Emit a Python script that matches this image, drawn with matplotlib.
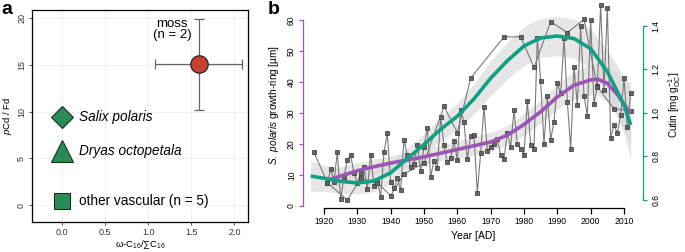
import matplotlib
matplotlib.use("Agg")
import matplotlib.pyplot as plt
import numpy as np

plt.rcParams['font.family'] = ['Liberation Sans', 'DejaVu Sans']
plt.rcParams['mathtext.fontset'] = 'custom'
plt.rcParams['mathtext.rm'] = 'Liberation Sans'
plt.rcParams['mathtext.it'] = 'Liberation Sans:italic'

# ---- panel a data ----
veg_labels = ['Salix polaris', 'Dryas octopetala', 'other vascular (n = 5)']
veg_x = [0.0, 0.0, 0.0]
veg_y = [9.46, 5.77, 0.43]
veg_markers = ['D', '^', 's']
veg_sizes = [11, 16, 11]
moss_x = 1.59
moss_y = 15.08
moss_xerr = [[0.51], [0.50]]
moss_yerr = [[4.85], [4.9]]

# ---- panel b data ----
ring_years = list(range(1921, 2013))
ring_vals = [
    7.5, 11.8, 7.8, 17.3, 2.1, 9.2, 14.7, 16.3, 10.5,
    7.4, 10.5, 12.4, 5.3, 16.3, 6.3, 8.3, 2.9, 17.3, 23.4,
    7.8, 5.6, 9.0, 5.0, 21.3, 16.4, 12.5, 13.5, 19.5, 11.1,
    19.0, 25.3, 9.4, 14.6, 12.1, 28.6, 19.5, 14.0, 15.3, 20.8,
    14.9, 31.0, 27.0, 15.0, 22.6, 22.9, 4.2, 17.0, 32.0, 17.7,
    19.0, 20.0, 21.6, 16.5, 15.1, 23.6, 19.1, 30.9, 20.1, 18.5,
    16.4, 33.9, 19.8, 18.5, 54.2, 40.4, 20.0, 35.4, 21.3, 27.2,
    39.6, 36.4, 54.2, 33.7, 18.5, 44.8, 32.6, 58.0, 35.6, 29.0,
    60.0, 33.0, 38.6, 65.0, 37.5, 64.0, 22.0, 26.0, 23.5, 29.3,
    41.2, 25.5, 36.6,
]
cut_years = [1917, 1921, 1927, 1931, 1936, 1940, 1944, 1950, 1956, 1960,
             1964, 1974, 1979, 1983, 1988, 1993, 1998, 2002, 2007, 2012]
cut_vals = [0.82, 0.68, 0.60, 0.70, 0.68, 0.62, 0.72, 0.77, 1.03, 0.91,
            1.16, 1.35, 1.35, 1.21, 1.42, 1.37, 1.43, 1.12, 1.02, 1.01]

# smoothed fits
ring_fit_years = [1922, 1925, 1930, 1935, 1940, 1945, 1950, 1955, 1960, 1965, 1970,
                  1975, 1980, 1985, 1990, 1995, 2000, 2002, 2005, 2008, 2010, 2012]
ring_fit = [8.6, 9.6, 11.3, 12.6, 13.8, 14.8, 15.8, 17.0, 18.2, 19.4, 20.6,
            22.8, 26.3, 30.4, 35.2, 39.0, 40.7, 41.0, 39.6, 36.0, 32.8, 29.9]
ring_se = [3.5, 3.0, 2.5, 2.4, 2.4, 2.4, 2.5, 2.6, 2.8, 3.0, 3.0,
           3.2, 3.5, 3.8, 4.0, 4.5, 5.0, 5.2, 6.0, 7.0, 8.0, 10.0]
cut_fit_years = [1916, 1920, 1925, 1930, 1935, 1940, 1945, 1950, 1955, 1960, 1965,
                 1970, 1975, 1980, 1985, 1990, 1995, 2000, 2005, 2010, 2012]
cut_fit = [0.71, 0.70, 0.686, 0.678, 0.688, 0.725, 0.79, 0.855, 0.925, 0.985, 1.065,
           1.16, 1.24, 1.308, 1.345, 1.354, 1.342, 1.296, 1.19, 1.037, 0.945]
cut_se = [0.07, 0.06, 0.055, 0.05, 0.05, 0.05, 0.05, 0.05, 0.055, 0.06, 0.07,
          0.08, 0.085, 0.09, 0.09, 0.09, 0.09, 0.09, 0.10, 0.13, 0.16]

purple = '#9b55b5'
teal = '#0fa084'
green = '#2a8c55'

fig = plt.figure(figsize=(6.85, 2.52), dpi=100)

# ================= panel a =================
ax = fig.add_axes([0.0472, 0.1202, 0.3153, 0.840])
ax.set_xlim(-0.34, 2.16)
ax.set_ylim(-1.79, 20.89)
ax.set_xticks([0.0, 0.5, 1.0, 1.5, 2.0])
ax.set_xticklabels(['0.0', '0.5', '1.0', '1.5', '2.0'])
ax.set_yticks([0, 5, 10, 15, 20])
ax.grid(True, color='#eeeeee', lw=0.6)
ax.set_axisbelow(True)
ax.tick_params(labelsize=6.5, length=2.5, width=0.6, colors='#333333', pad=2)
for lab in ax.get_yticklabels():
    lab.set_rotation(90)
    lab.set_va('center')
for s in ax.spines.values():
    s.set_linewidth(0.9)

for x, y, m, ms, lab in zip(veg_x, veg_y, veg_markers, veg_sizes, veg_labels):
    ax.plot(x, y, marker=m, ms=ms, color=green, mec='#1b2e22', mew=0.8, ls='none')
    style = 'italic' if 'vascular' not in lab else 'normal'
    ax.text(0.205, y, lab, fontsize=9.8, fontstyle=style, va='center', ha='left')

ax.errorbar(moss_x, moss_y, xerr=moss_xerr, yerr=moss_yerr, fmt='none',
            ecolor='#666666', elinewidth=0.9, capsize=3.5, capthick=0.9)
ax.plot(moss_x, moss_y, 'o', ms=12.5, color='#c7402d', mec='#222222', mew=0.9)
ax.text(1.28, 18.8, 'moss\n(n = 2)', fontsize=9.5, ha='center', va='center',
        linespacing=0.95)

ax.set_ylabel('$p$Cd / Fd', fontsize=6.8, labelpad=2)
ax.set_xlabel('ω-C$_{16}$/∑C$_{16}$', fontsize=6.8, labelpad=1)

fig.text(0.002, 0.998, 'a', fontsize=14, fontweight='bold', va='top', ha='left')

# ================= panel b =================
bx = fig.add_axes([0.4423, 0.1758, 0.4964, 0.8163])
bx.set_xlim(1913.7, 2015.7)
bx.set_ylim(-0.647, 65.92)
cx = bx.twinx()
cx.set_ylim(0.5646, 1.5103)
rt = bx.transData  # growth-ring artists drawn on top axes with left-axis scale

rf = np.array(ring_fit)
rs = np.array(ring_se)
cf = np.array(cut_fit)
cs = np.array(cut_se)
cx.fill_between(cut_fit_years, cf - cs, cf + cs, color='#d9d9d9', alpha=0.65, lw=0, zorder=1)
cx.fill_between(ring_fit_years, rf - rs, rf + rs, color='#d9d9d9', alpha=0.65, lw=0,
                zorder=1, transform=rt)

cx.plot(ring_years, ring_vals, color='#7a7a7a', lw=0.8, zorder=2, transform=rt)
cx.plot(ring_years, ring_vals, 's', ms=3.2, color='#666666', mec='#333333', mew=0.5,
        zorder=3, transform=rt)
cx.plot(cut_years, cut_vals, color='#7a7a7a', lw=0.8, zorder=2)
cx.plot(cut_years, cut_vals, 's', ms=3.2, color='#666666', mec='#333333', mew=0.5, zorder=3)

cx.plot(ring_fit_years, ring_fit, color=purple, lw=2.6, solid_capstyle='butt', zorder=4,
        transform=rt)
cx.plot(cut_fit_years, cut_fit, color=teal, lw=2.6, solid_capstyle='butt', zorder=4)

bx.set_xlim(1913.7, 2015.7)
bx.set_ylim(-0.647, 65.92)
cx.set_ylim(0.5646, 1.5103)

# axes styling
bx.spines['top'].set_visible(False)
bx.spines['right'].set_visible(False)
bx.spines['bottom'].set_bounds(1920, 2010)
bx.spines['bottom'].set_linewidth(0.9)
bx.spines['left'].set_bounds(0, 60)
bx.spines['left'].set_color(purple)
bx.spines['left'].set_linewidth(0.9)
bx.set_xticks(range(1920, 2011, 10))
bx.set_yticks(range(0, 61, 10))
bx.tick_params(axis='x', labelsize=6.2, length=4, width=0.9, pad=3)
bx.tick_params(axis='y', labelsize=6.2, length=3, width=0.9, color=purple, pad=2)
for lab in bx.get_yticklabels():
    lab.set_rotation(90)
    lab.set_va('center')

for k in ['top', 'left', 'bottom']:
    cx.spines[k].set_visible(False)
cx.spines['right'].set_bounds(0.6, 1.4)
cx.spines['right'].set_color(teal)
cx.spines['right'].set_linewidth(0.9)
cx.set_yticks([0.6, 0.8, 1.0, 1.2, 1.4])
cx.set_yticklabels(['0.6', '0.8', '1.0', '1.2', '1.4'])
cx.tick_params(axis='y', labelsize=6.2, length=3, width=0.9, color=teal, pad=3)
for lab in cx.get_yticklabels():
    lab.set_rotation(90)
    lab.set_va('center')

bx.set_xlabel('Year [AD]', fontsize=7.5, labelpad=3)
bx.set_ylabel(r'$\it{S.\ polaris}$ growth-ring [µm]', fontsize=7.2, labelpad=4)
cx.set_ylabel(r'Cutin [mg g$_{\rm OC}^{-1}$]', fontsize=7.2, labelpad=4)

fig.text(268 / 685, 0.998, 'b', fontsize=14, fontweight='bold', va='top', ha='left')

fig.savefig('out.png', dpi=100)
